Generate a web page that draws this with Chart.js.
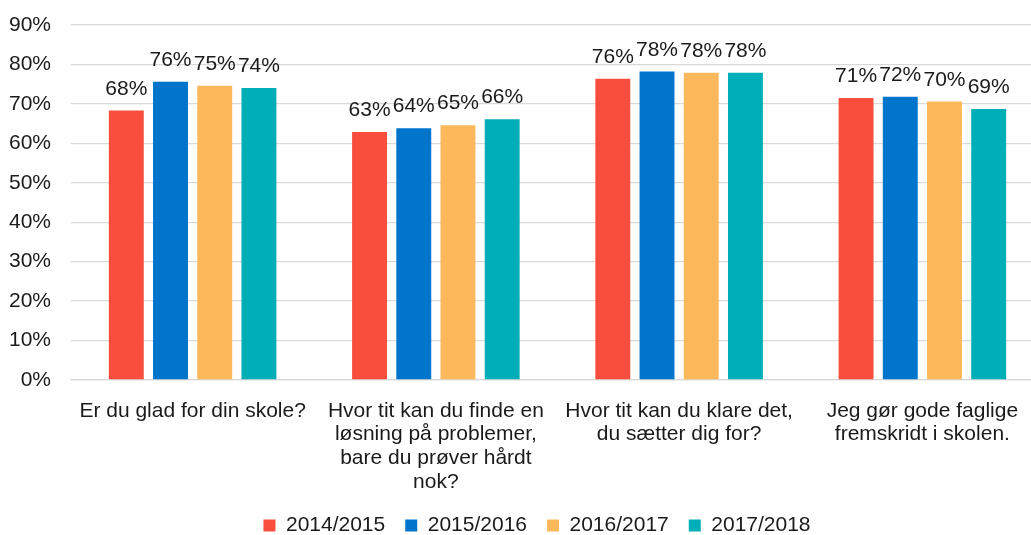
<!DOCTYPE html>
<html>
<head>
<meta charset="utf-8">
<script src="https://cdn.jsdelivr.net/npm/chart.js@4"></script>
<style>
  html, body { margin: 0; padding: 0; background: #fff; overflow: hidden; }
  #wrap { width: 1072px; height: 535px; position: relative; }
</style>
</head>
<body>
<div id="wrap"><canvas id="c" width="1072" height="535"></canvas></div>
<script>
const categories = [
  ["Er du glad for din skole?"],
  ["Hvor tit kan du finde en", "løsning på problemer,", "bare du prøver hårdt", "nok?"],
  ["Hvor tit kan du klare det,", "du sætter dig for?"],
  ["Jeg gør gode faglige", "fremskridt i skolen."]
];
const seriesNames = ["2014/2015", "2015/2016", "2016/2017", "2017/2018"];
const s2014 = [68.3, 62.9, 76.4, 71.5];
const s2015 = [75.6, 63.8, 78.2, 71.8];
const s2016 = [74.6, 64.6, 77.9, 70.6];
const s2017 = [74.0, 66.1, 77.9, 68.7];
const lbl2014 = ["68%", "63%", "76%", "71%"];
const lbl2015 = ["76%", "64%", "78%", "72%"];
const lbl2016 = ["75%", "65%", "78%", "70%"];
const lbl2017 = ["74%", "66%", "78%", "69%"];
const yTicks = [0, 10, 20, 30, 40, 50, 60, 70, 80, 90];
const colors = ["#F94D3D", "#0175CC", "#FDB85B", "#00AEB7"];

const values = [s2014, s2015, s2016, s2017];
const labelSets = [lbl2014, lbl2015, lbl2016, lbl2017];
const FONT = "'Liberation Sans', Arial, sans-serif";
const TXT = "#1a1a1a";

const valueLabels = {
  id: 'valueLabels',
  afterDatasetsDraw(chart) {
    const ctx = chart.ctx;
    ctx.save();
    ctx.font = "21px " + FONT;
    ctx.fillStyle = TXT;
    ctx.textAlign = "center";
    ctx.textBaseline = "alphabetic";
    chart.data.datasets.forEach((ds, di) => {
      const meta = chart.getDatasetMeta(di);
      meta.data.forEach((bar, i) => {
        ctx.fillText(labelSets[di][i], bar.x, bar.y - 16);
      });
    });
    ctx.restore();
  }
};

const legendShift = {
  id: 'legendShift',
  afterLayout(chart) {
    const l = chart.legend;
    if (l) { l.left += 15; l.right += 15; }
  }
};

new Chart(document.getElementById('c'), {
  type: 'bar',
  data: {
    labels: categories,
    datasets: seriesNames.map((n, i) => ({
      label: n,
      data: values[i],
      backgroundColor: colors[i],
      categoryPercentage: 0.727,
      barPercentage: 0.79
    }))
  },
  options: {
    responsive: false,
    animation: false,
    layout: { padding: { top: 25, right: 28, left: 0, bottom: -11 } },
    plugins: {
      legend: {
        position: 'bottom',
        labels: {
          font: { size: 21, family: FONT },
          color: TXT,
          boxWidth: 12,
          boxHeight: 12,
          padding: 20,
          useBorderRadius: false
        }
      },
      tooltip: { enabled: false }
    },
    scales: {
      y: {
        min: 0, max: 90,
        afterBuildTicks(axis) { axis.ticks = yTicks.map(v => ({ value: v })); },
        afterFit(axis) { axis.width = 71; },
        ticks: {
          callback: v => v + '%',
          font: { size: 21, family: FONT },
          color: TXT,
          padding: 0
        },
        grid: { color: '#d9d9d9', lineWidth: 1.3, drawTicks: true, tickLength: 20, tickColor: 'rgba(0,0,0,0)' },
        border: { display: false }
      },
      x: {
        afterFit(axis) { axis.height = 115; },
        ticks: {
          font: { size: 21, family: FONT, lineHeight: 1.13 },
          color: TXT,
          maxRotation: 0,
          autoSkip: false,
          padding: 19
        },
        grid: { display: false, drawTicks: false },
        border: { color: '#d9d9d9', width: 1.3 }
      }
    }
  },
  plugins: [valueLabels, legendShift]
});
</script>
</body>
</html>
